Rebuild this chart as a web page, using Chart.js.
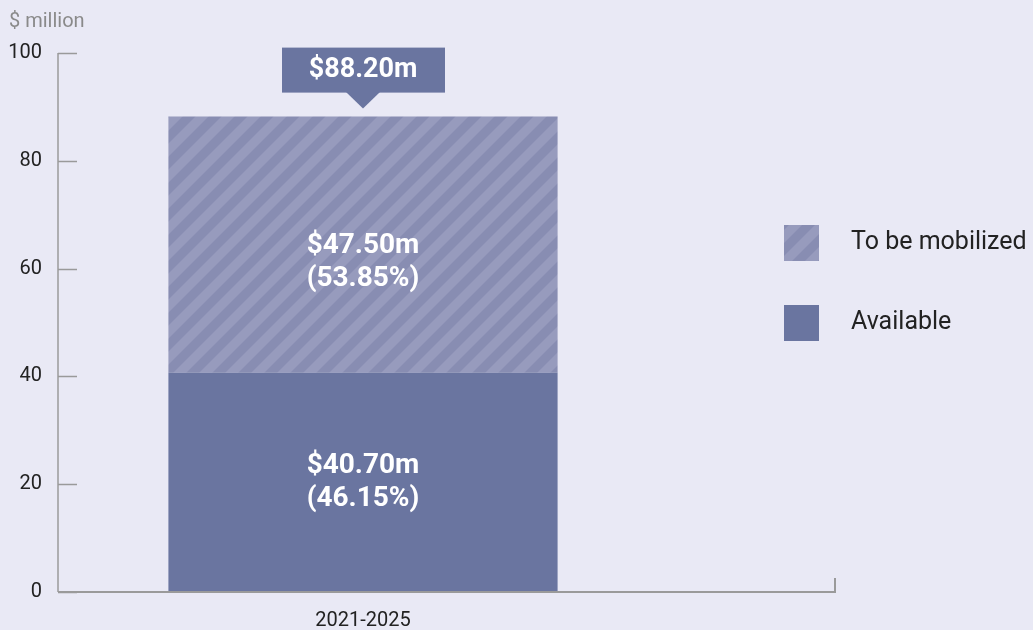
<!DOCTYPE html>
<html>
<head>
<meta charset="utf-8">
<script src="https://cdn.jsdelivr.net/npm/chart.js@4/dist/chart.umd.min.js"></script>
<style>
  html, body { margin: 0; padding: 0; background: #e9e9f5; }
  #wrap { width: 1033px; height: 630px; position: relative; }
</style>
</head>
<body>
<div id="wrap"><canvas id="chart"></canvas></div>
<script>
// data
const periods = ['2021-2025'];
const available = [40.70];
const toBeMobilized = [47.50];
const yTicks = [0, 20, 40, 60, 80, 100];
const unitLabel = '$ million';

const FONT = 'Roboto, "Noto Sans", sans-serif';
const BG = '#e9e9f5';
const SOLID = '#6a75a0';
const AXIS = '#9a9a9a';

// diagonal stripes for the "to be mobilized" part
function makeStripes() {
  const s = 26;
  const c = document.createElement('canvas');
  c.width = s; c.height = s;
  const g = c.getContext('2d');
  g.fillStyle = '#888db2';
  g.fillRect(0, 0, s, s);
  g.fillStyle = '#979bbd';
  g.beginPath();
  g.moveTo(0, 0); g.lineTo(s / 2, 0); g.lineTo(0, s / 2); g.closePath();
  g.fill();
  g.beginPath();
  g.moveTo(s, 0); g.lineTo(s, s / 2); g.lineTo(s / 2, s); g.lineTo(0, s); g.closePath();
  g.fill();
  return g.createPattern(c, 'repeat');
}
const stripes = makeStripes();

const labelShift = [0, 18];

const decorations = {
  id: 'decorations',
  beforeDraw(chart) {
    const ctx = chart.ctx;
    ctx.save();
    ctx.fillStyle = BG;
    ctx.fillRect(0, 0, chart.width, chart.height);
    ctx.restore();
  },
  afterDraw(chart) {
    const ctx = chart.ctx;
    const area = chart.chartArea;
    const y = chart.scales.y;
    ctx.save();

    // unit label
    ctx.fillStyle = '#8a8a8a';
    ctx.font = '20px ' + FONT;
    ctx.textAlign = 'left';
    ctx.textBaseline = 'middle';
    ctx.fillText(unitLabel, 9, 22);

    // axis lines with inward tick marks
    ctx.strokeStyle = AXIS;
    ctx.lineWidth = 1.5;
    ctx.beginPath();
    ctx.moveTo(area.left, area.top);
    ctx.lineTo(area.left, area.bottom);
    yTicks.forEach(t => {
      const py = Math.round(y.getPixelForValue(t)) + 0.5;
      ctx.moveTo(area.left, py);
      ctx.lineTo(area.left + 19, py);
    });
    ctx.stroke();

    const xEnd = area.right + 167;
    ctx.lineWidth = 2;
    ctx.beginPath();
    ctx.moveTo(area.left, area.bottom);
    ctx.lineTo(xEnd, area.bottom);
    ctx.moveTo(xEnd, area.bottom + 1);
    ctx.lineTo(xEnd, area.bottom - 14);
    ctx.stroke();

    // segment labels
    const total = available[0] + toBeMobilized[0];
    ctx.fillStyle = '#ffffff';
    ctx.font = 'bold 28px ' + FONT;
    ctx.textAlign = 'center';
    ctx.textBaseline = 'middle';
    chart.data.datasets.forEach((ds, i) => {
      const bar = chart.getDatasetMeta(i).data[0];
      const v = ds.data[0];
      const cy = (bar.y + bar.base) / 2 + labelShift[i];
      ctx.fillText('$' + v.toFixed(2) + 'm', bar.x, cy - 16.5);
      ctx.fillText('(' + (v / total * 100).toFixed(2) + '%)', bar.x, cy + 16.5);
    });

    // total callout
    const top = chart.getDatasetMeta(1).data[0];
    const cx = top.x;
    const tipY = top.y - 8;
    ctx.fillStyle = SOLID;
    ctx.fillRect(cx - 81, tipY - 61, 163, 45);
    ctx.beginPath();
    ctx.moveTo(cx - 17, tipY - 16.5);
    ctx.lineTo(cx + 17, tipY - 16.5);
    ctx.lineTo(cx, tipY);
    ctx.closePath();
    ctx.fill();
    ctx.fillStyle = '#ffffff';
    ctx.font = 'bold 27px ' + FONT;
    ctx.fillText('$' + total.toFixed(2) + 'm', cx, tipY - 38);

    // legend
    const items = [chart.data.datasets[1], chart.data.datasets[0]];
    items.forEach((ds, i) => {
      const ly = 243 + i * 80;
      ctx.fillStyle = ds.backgroundColor;
      ctx.fillRect(784, ly - 18, 35, 36);
      ctx.fillStyle = '#222222';
      ctx.font = '25px ' + FONT;
      ctx.textAlign = 'left';
      ctx.fillText(ds.label, 851, ly);
    });

    ctx.restore();
  }
};

new Chart(document.getElementById('chart'), {
  type: 'bar',
  data: {
    labels: periods,
    datasets: [
      { label: 'Available', data: available, backgroundColor: SOLID },
      { label: 'To be mobilized', data: toBeMobilized, backgroundColor: stripes }
    ]
  },
  options: {
    responsive: true,
    maintainAspectRatio: false,
    animation: false,
    layout: { padding: { top: 53, left: 0, right: 365, bottom: 0 } },
    datasets: { bar: { categoryPercentage: 0.638, barPercentage: 1 } },
    plugins: { legend: { display: false }, tooltip: { enabled: false } },
    scales: {
      x: {
        stacked: true,
        grid: { display: false, drawTicks: false },
        border: { display: false },
        ticks: { color: '#222222', font: { family: FONT, size: 20 }, padding: 17 },
        afterFit(scale) { scale.height = 38; }
      },
      y: {
        stacked: true,
        min: 0,
        max: 100,
        afterBuildTicks(scale) { scale.ticks = yTicks.map(v => ({ value: v })); },
        grid: { display: false, drawTicks: false },
        border: { display: false },
        ticks: { color: '#222222', font: { family: FONT, size: 20 }, padding: 16 },
        afterFit(scale) { scale.width = 58; }
      }
    }
  },
  plugins: [decorations]
});
</script>
</body>
</html>
